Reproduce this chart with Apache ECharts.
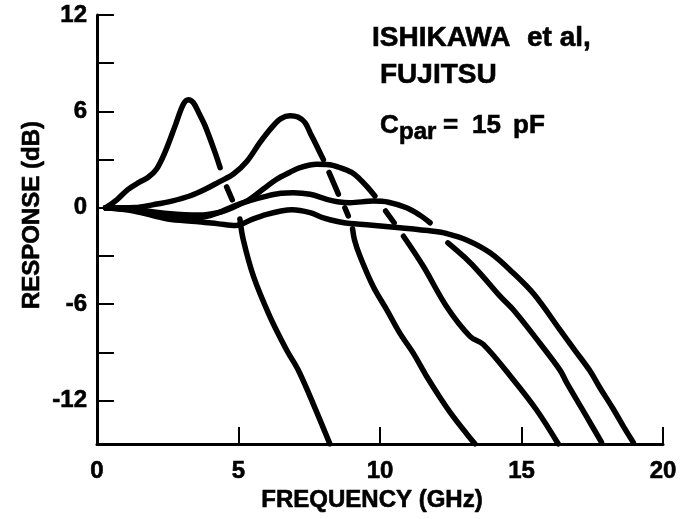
<!DOCTYPE html>
<html>
<head>
<meta charset="utf-8">
<script src="https://cdn.jsdelivr.net/npm/echarts@6/dist/echarts.min.js"></script>
<style>
html,body{margin:0;padding:0;background:#fff;}
#chart{width:685px;height:519px;}
</style>
</head>
<body>
<div id="chart"></div>
<script>
// ---- data: [frequency GHz, response dB] ----
var xTicks = [0, 5, 10, 15, 20];
var yTickValues = [-12, -9, -6, -3, 0, 3, 6, 9, 12];
var yLabelValues = [-12, -6, 0, 6, 12];

// curve 1 (highest peak)
var c1a = [[0.3,0],[0.7,0.5],[1.1,1.15],[1.5,1.6],[1.81,1.9],[2.1,2.4],[2.4,3.45],[2.76,5.1],[3.05,6.45],[3.23,6.73],[3.4,6.55],[3.6,5.9],[3.82,5.1],[4.17,3.45],[4.35,2.5]];
var c1b = [[4.58,1.3],[4.78,0.5]];
var c1c = [[5.05,-0.7],[5.17,-2.0],[5.53,-4.27],[6.11,-6.77],[6.7,-8.85],[7.11,-10.1],[7.64,-12.2],[8.23,-14.7]];
// curve 2
var c2a = [[0.3,0],[1.34,0.02],[2.0,0.2],[2.64,0.42],[3.3,0.75],[3.82,1.15],[4.3,1.6],[4.82,2.1],[5.3,2.9],[5.76,4.07],[6.2,5.05],[6.5,5.55],[6.82,5.73],[7.1,5.65],[7.35,5.3],[7.55,4.6],[7.76,3.86],[8.0,3.0]];
var c2b = [[8.2,2.2],[8.53,0.85]];
var c2c = [[8.76,0.0],[8.88,-0.5]];
var c2d = [[9.03,-1.3],[9.1,-2.0],[9.29,-3.0],[9.76,-4.9],[10.24,-6.35],[10.7,-7.8],[11.18,-9.06],[11.65,-10.5],[12.12,-11.8],[12.59,-13.0],[13.06,-14.06],[13.36,-14.7]];
// curve 3
var c3a = [[0.3,0],[1.3,-0.1],[2.5,-0.35],[3.6,-0.45],[4.4,-0.25],[4.9,0.1],[5.41,0.55],[5.9,1.2],[6.35,1.78],[6.8,2.2],[7.17,2.5],[7.76,2.71],[8.2,2.68],[8.59,2.5],[9.0,2.2],[9.29,1.78],[9.55,1.3],[9.82,0.73]];
var c3b = [[10.2,-0.2],[10.5,-0.93]];
var c3c = [[10.83,-1.77],[11.53,-3.64],[12.35,-6.14],[13.18,-8.0],[13.65,-8.5],[14.71,-10.7],[15.54,-12.6],[16.3,-14.7]];
// curve 4
var c4a = [[0.3,0],[1.3,-0.15],[2.5,-0.5],[3.6,-0.6],[4.3,-0.3],[4.82,0.1],[5.4,0.45],[6.0,0.73],[6.5,0.9],[6.94,0.94],[7.53,0.84],[8.12,0.53],[8.5,0.38],[8.94,0.32],[9.76,0.42],[10.3,0.35],[10.94,0.0],[11.4,-0.45],[11.77,-0.93]];
var c4b = [[12.4,-2.18],[13.0,-3.1],[13.53,-4.06],[14.24,-5.5],[14.71,-6.35],[15.65,-8.43],[16.36,-10.1],[16.6,-10.9],[17.3,-13.0],[17.83,-14.6]];
// curve 5
var c5a = [[0.3,0],[1.3,-0.2],[2.5,-0.7],[3.5,-0.85],[4.3,-1.0],[4.9,-1.1],[5.5,-0.7],[6.0,-0.41],[6.5,-0.2],[6.9,-0.12],[7.53,-0.3],[8.0,-0.62],[8.5,-0.85],[8.94,-0.98],[9.53,-1.05],[10.7,-1.24],[11.88,-1.46],[12.35,-1.6],[13.06,-2.0],[13.89,-2.8],[14.71,-4.06],[15.45,-5.4],[16.36,-7.6],[16.9,-8.9],[17.4,-10.1],[17.77,-11.2],[18.2,-12.4],[18.6,-13.6],[18.95,-14.6]];

var pieces = [c1a, c1b, c1c, c2a, c2b, c2c, c2d, c3a, c3b, c3c, c4a, c4b, c5a];

var FONT = '"Liberation Sans", Arial, Helvetica, sans-serif';

var series = pieces.map(function (p) {
  return {
    type: 'line',
    data: p,
    showSymbol: false,
    smooth: p.length > 2 ? 0.35 : false,
    lineStyle: { color: '#000', width: 5.5, cap: 'round', join: 'round' },
    silent: true,
    animation: false
  };
});

function txt(x, y, s, size) {
  return {
    type: 'text', x: x, y: y,
    style: { text: s, fill: '#000', font: 'bold ' + size + 'px ' + FONT,
             stroke: '#000', lineWidth: 0.6,
             textAlign: 'left', textVerticalAlign: 'middle', align: 'left', verticalAlign: 'middle' }
  };
}

var chart = echarts.init(document.getElementById('chart'), null, { renderer: 'canvas' });
chart.setOption({
  backgroundColor: '#fff',
  animation: false,
  grid: { left: 97, right: 22, top: 15, bottom: 75, containLabel: false },
  xAxis: {
    type: 'value', min: 0, max: 20, interval: 5,
    name: 'FREQUENCY (GHz)', nameLocation: 'middle', nameGap: 40,
    nameTextStyle: { fontFamily: FONT, fontWeight: 'bold', fontSize: 24, color: '#000', padding: [0, 16, 0, 0],
                     textBorderColor: '#000', textBorderWidth: 0.6 },
    axisLine: { onZero: false, lineStyle: { color: '#000', width: 3 } },
    axisTick: { inside: true, length: 17, lineStyle: { color: '#000', width: 2 } },
    axisLabel: { margin: 15, fontFamily: FONT, fontWeight: 'bold', fontSize: 24, color: '#000',
                 textBorderColor: '#000', textBorderWidth: 0.6 },
    splitLine: { show: false }
  },
  yAxis: {
    type: 'value', min: -14.7, max: 12,
    axisLine: { show: true, onZero: false, lineStyle: { color: '#000', width: 3 } },
    axisTick: { show: true, inside: true, length: 17, customValues: yTickValues, lineStyle: { color: '#000', width: 2 } },
    axisLabel: { margin: 10, customValues: yLabelValues, fontFamily: FONT, fontWeight: 'bold', fontSize: 24, color: '#000',
                 textBorderColor: '#000', textBorderWidth: 0.6 },
    splitLine: { show: false }
  },
  graphic: [
    {
      type: 'text', x: 32, y: 215, rotation: Math.PI / 2,
      style: { text: 'RESPONSE (dB)', fill: '#000', font: 'bold 24px ' + FONT,
               stroke: '#000', lineWidth: 0.6,
               textAlign: 'center', textVerticalAlign: 'middle', align: 'center', verticalAlign: 'middle' }
    },
    txt(372, 38, 'ISHIKAWA', 28),
    txt(527, 38, 'et al,', 28),
    txt(380, 75, 'FUJITSU', 28),
    txt(380, 126, 'C', 26),
    txt(399, 132, 'par', 24),
    txt(443, 126, '=', 26),
    txt(472, 126, '15', 26),
    txt(513, 126, 'pF', 26)
  ],
  series: series
});
</script>
</body>
</html>
